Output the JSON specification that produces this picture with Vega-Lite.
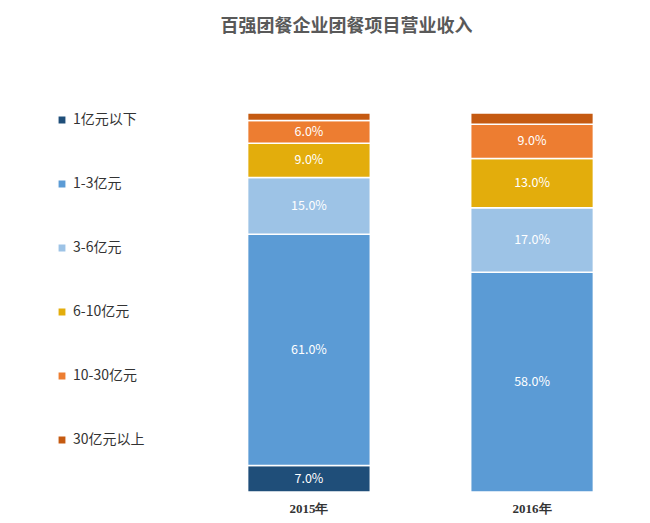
{
  "$schema": "https://vega.github.io/schema/vega-lite/v6.json",
  "autosize": {"type": "fit", "contains": "padding"},
  "width": 650,
  "height": 523,
  "padding": {"left": 55, "right": 12, "top": 18, "bottom": 8},
  "background": "white",
  "title": {"text": "百强团餐企业团餐项目营业收入", "fontSize": 18, "fontWeight": "bold", "color": "#595959", "font": "Noto Sans CJK SC", "offset": 76, "anchor": "middle", "frame": "bounds"},
  "config": {"view": {"stroke": null}, "font": "Noto Sans CJK SC"},
  "data": {"values": [
    {"year": "2015年", "cat": "1亿元以下", "k": 1, "v": 7},
    {"year": "2015年", "cat": "1-3亿元", "k": 2, "v": 61},
    {"year": "2015年", "cat": "3-6亿元", "k": 3, "v": 15},
    {"year": "2015年", "cat": "6-10亿元", "k": 4, "v": 9},
    {"year": "2015年", "cat": "10-30亿元", "k": 5, "v": 6},
    {"year": "2015年", "cat": "30亿元以上", "k": 6, "v": 2},
    {"year": "2016年", "cat": "1亿元以下", "k": 1, "v": 0},
    {"year": "2016年", "cat": "1-3亿元", "k": 2, "v": 58},
    {"year": "2016年", "cat": "3-6亿元", "k": 3, "v": 17},
    {"year": "2016年", "cat": "6-10亿元", "k": 4, "v": 13},
    {"year": "2016年", "cat": "10-30亿元", "k": 5, "v": 9},
    {"year": "2016年", "cat": "30亿元以上", "k": 6, "v": 3}
  ]},
  "encoding": {
    "x": {"field": "year", "type": "nominal", "scale": {"paddingInner": 0.45, "paddingOuter": 0.2},
      "axis": {"title": null, "labelAngle": 0, "labelFontWeight": "bold", "labelFontSize": 13, "labelColor": "#333", "labelFont": "Liberation Serif", "domain": false, "ticks": false, "labelPadding": 10}},
    "y": {"field": "v", "type": "quantitative", "stack": "zero", "scale": {"domain": [0, 100], "nice": false}, "axis": null},
    "order": {"field": "k", "type": "quantitative"}
  },
  "layer": [
    {
      "mark": {"type": "bar", "stroke": "white", "strokeWidth": 1.5},
      "encoding": {
        "color": {"field": "cat", "type": "nominal",
          "sort": ["1亿元以下", "1-3亿元", "3-6亿元", "6-10亿元", "10-30亿元", "30亿元以上"],
          "scale": {"domain": ["1亿元以下", "1-3亿元", "3-6亿元", "6-10亿元", "10-30亿元", "30亿元以上"],
            "range": ["#1f4e79", "#5b9bd5", "#9dc3e6", "#e3ad0c", "#ed7d31", "#c55a11"]},
          "legend": {"orient": "left", "title": null, "symbolType": "square", "symbolSize": 70, "labelFontSize": 14, "labelColor": "#333", "rowPadding": 48, "offset": 58, "padding": 0}}
      }
    },
    {
      "transform": [{"filter": "datum.v >= 5"}, {"calculate": "format(datum.v, '.1f') + '%'", "as": "lab"}],
      "mark": {"type": "text", "color": "white", "fontSize": 12.5},
      "encoding": {
        "y": {"field": "v", "type": "quantitative", "stack": "zero", "bandPosition": 0.5},
        "text": {"field": "lab", "type": "nominal"}
      }
    }
  ]
}
